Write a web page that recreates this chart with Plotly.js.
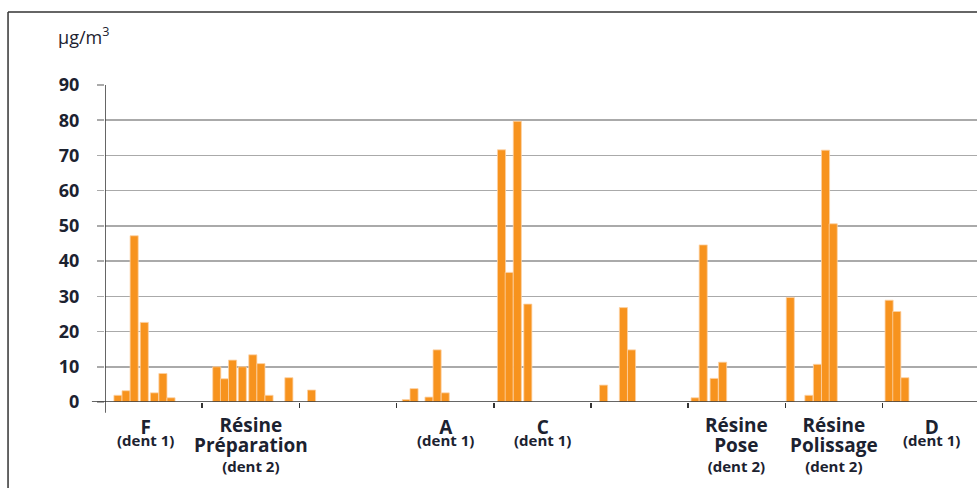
<!DOCTYPE html>
<html>
<head>
<meta charset="utf-8">
<script src="https://cdn.plot.ly/plotly-3.0.1.min.js"></script>
<style>
html,body{margin:0;padding:0;background:#fff;}
#chart{width:977px;height:488px;}
</style>
</head>
<body>
<div id="chart"></div>
<script>
// ---- Data (sampling slot along the timeline, concentration in µg/m3) ----
const tF   = [1.6, 2.6, 3.6, 4.85, 6.1, 7.15, 8.15];
const vF   = [1.9, 3.2, 47.2, 22.6, 2.6, 8.1, 1.2];
const tRP  = [13.8, 14.75, 15.75, 16.95, 18.25, 19.25, 20.25, 22.7, 25.5];
const vRP  = [10.0, 6.6, 11.9, 10.0, 13.4, 10.9, 1.9, 6.9, 3.4];
const tA   = [37.2, 38.15, 40.0, 41.0, 42.0];
const vA   = [0.7, 3.8, 1.4, 14.8, 2.6];
const tC   = [48.95, 49.9, 50.9, 52.2];
const vC   = [71.6, 36.8, 79.7, 27.8];
const tG6  = [61.55, 64.0, 65.0];
const vG6  = [4.8, 26.8, 14.8];
const tRPo = [72.85, 73.85, 75.2, 76.25];
const vRPo = [1.2, 44.6, 6.7, 11.3];
const tRPl = [84.6, 86.9, 87.95, 88.95, 89.9];
const vRPl = [29.7, 1.9, 10.7, 71.5, 50.6];
const tD   = [96.8, 97.75, 98.75];
const vD   = [28.9, 25.7, 6.9];

const groupNames = [["F"], ["Résine","Préparation"], [], ["A"], ["C"], [], ["Résine","Pose"], ["Résine","Polissage"], ["D"]];
const groupTeeth = ["(dent 1)", "(dent 2)", "", "(dent 1)", "(dent 1)", "", "(dent 2)", "(dent 2)", "(dent 1)"];
const yTicks = [0,10,20,30,40,50,60,70,80,90];
const unitLabel = "µg/m<sup>3</sup>";

// ---- Build ----
const xs = [].concat(tF, tRP, tA, tC, tG6, tRPo, tRPl, tD);
const ys = [].concat(vF, vRP, vA, vC, vG6, vRPo, vRPl, vD);

const GW = 12; // slots per group
const textColor = '#1c2230';
const fontFam = '"Open Sans", "DejaVu Sans", sans-serif';

const trace = {
  type: 'bar',
  x: xs,
  y: ys,
  width: 1.0,
  marker: {color: '#f7931e', line: {color: '#fcd2a4', width: 0.8}},
  hoverinfo: 'x+y'
};

const annotations = [];
const nudge = {0: -8};
groupNames.forEach((lines, k) => {
  if (!lines.length) return;
  const cx = GW * k + GW / 2;
  const parts = lines.map(ln => '<span style="font-size:19px"><b>' + ln + '</b></span>');
  if (groupTeeth[k]) parts.push('<span style="font-size:15px"><b>' + groupTeeth[k] + '</b></span>');
  const multi = lines.length > 1;
  annotations.push({
    x: cx, xref: 'x', y: 0, yref: 'paper', yanchor: 'top', xanchor: 'center',
    yshift: multi ? -9 : -11, xshift: nudge[k] || 0, showarrow: false, borderpad: 0,
    text: parts.join('<br>'),
    font: {family: fontFam, size: multi ? 15.2 : 9.3, color: textColor}
  });
});
annotations.push({
  x: -0.056, xref: 'paper', xanchor: 'left', y: 1.155, yref: 'paper', yanchor: 'middle',
  showarrow: false, text: unitLabel,
  font: {family: fontFam, size: 18, color: textColor}
});

const tickVals = [];
for (let k = 1; k <= 8; k++) tickVals.push(GW * k);

const layout = {
  width: 977, height: 488,
  margin: {l: 105, r: 0, t: 85, b: 86},
  paper_bgcolor: '#fff', plot_bgcolor: '#fff',
  showlegend: false,
  bargap: 0,
  xaxis: {
    range: [0, 107.65], tickvals: tickVals, showticklabels: false,
    ticks: 'outside', ticklen: 5, tickwidth: 1.5, tickcolor: '#333',
    showgrid: false, zeroline: false, showline: false, fixedrange: true
  },
  yaxis: {
    range: [0, 90], tickvals: yTicks,
    ticktext: yTicks.map(v => '<b>' + v + '</b>'),
    ticks: 'outside', ticklen: 7, tickwidth: 1.5, tickcolor: '#aaaaaa',
    ticklabelstandoff: 14,
    tickfont: {family: fontFam, size: 18, color: textColor},
    showgrid: true, gridcolor: '#aaaaaa', gridwidth: 1.5,
    zeroline: false, showline: false, fixedrange: true
  },
  shapes: [
    {type: 'line', xref: 'paper', yref: 'y', x0: -0.015, x1: 1, y0: 0, y1: 0,
     line: {color: '#333', width: 1.5}},
    {type: 'line', xref: 'x', yref: 'paper', x0: 0, x1: 0, y0: -0.034, y1: 1,
     line: {color: '#333', width: 1.5}},
    {type: 'line', xref: 'paper', yref: 'paper', x0: -0.1112, x1: -0.1112, y0: -0.4, y1: 1.2303,
     line: {color: '#333', width: 1.5}},
    {type: 'line', xref: 'paper', yref: 'paper', x0: -0.1112, x1: 1.02, y0: 1.2303, y1: 1.2303,
     line: {color: '#333', width: 1.5}}
  ],
  annotations: annotations
};

Plotly.newPlot('chart', [trace], layout, {displayModeBar: false, staticPlot: true});
</script>
</body>
</html>
